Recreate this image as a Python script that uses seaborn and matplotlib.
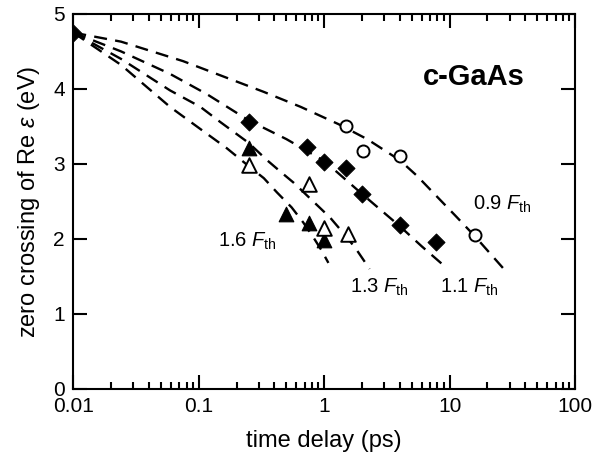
import matplotlib
matplotlib.use('Agg')
import matplotlib.pyplot as plt
import matplotlib.ticker as mticker
import seaborn as sns
import pandas as pd

# fit curves (time delay in ps, energy in eV)
curve_09_t = [0.01, 0.024, 0.075, 0.33, 0.65, 1.3, 2.2, 4.0, 5.5, 8.4, 11.4, 16, 27]
curve_09_e = [4.75, 4.63, 4.37, 3.96, 3.76, 3.53, 3.33, 3.05, 2.84, 2.52, 2.29, 2.03, 1.6]
curve_11_t = [0.01, 0.024, 0.059, 0.116, 0.25, 0.5, 1.0, 2.0, 4.0, 6.0, 9.5]
curve_11_e = [4.75, 4.50, 4.20, 3.93, 3.58, 3.33, 3.04, 2.60, 2.17, 1.90, 1.61]
curve_13_t = [0.01, 0.024, 0.059, 0.103, 0.148, 0.25, 0.35, 0.46, 0.57, 0.93, 1.12, 1.4, 1.77, 2.3]
curve_13_e = [4.75, 4.40, 3.98, 3.76, 3.56, 3.28, 3.05, 2.88, 2.75, 2.41, 2.28, 2.09, 1.88, 1.6]
curve_16_t = [0.01, 0.024, 0.059, 0.102, 0.167, 0.25, 0.33, 0.42, 0.55, 0.68, 0.82, 0.95, 1.08]
curve_16_e = [4.75, 4.32, 3.76, 3.47, 3.21, 2.97, 2.81, 2.62, 2.42, 2.22, 2.02, 1.85, 1.68]

# measured points
circ_t = [1.5, 2.05, 4.0, 16]
circ_e = [3.50, 3.17, 3.11, 2.05]
diam_t = [0.01, 0.25, 0.73, 1.0, 1.5, 2.0, 4.0, 7.8]
diam_e = [4.74, 3.56, 3.23, 3.03, 2.95, 2.60, 2.18, 1.96]
tri_f_t = [0.25, 0.5, 0.76, 1.0]
tri_f_e = [3.21, 2.33, 2.21, 1.98]
tri_o_t = [0.25, 0.76, 1.0, 1.55]
tri_o_e = [2.98, 2.73, 2.14, 2.06]

labels = ['0.9', '1.1', '1.3', '1.6']
label_t = [15.4, 8.4, 1.61, 0.143]
label_e = [2.39, 1.28, 1.28, 1.90]

sns.set_style('ticks')
plt.rcParams['font.family'] = ['Liberation Sans', 'DejaVu Sans']
plt.rcParams['mathtext.fontset'] = 'custom'
plt.rcParams['mathtext.rm'] = 'Liberation Sans'
plt.rcParams['mathtext.it'] = 'Liberation Sans:italic'
plt.rcParams['mathtext.bf'] = 'Liberation Sans:bold'
for k in ['text.color', 'axes.labelcolor', 'xtick.color', 'ytick.color', 'axes.edgecolor']:
    plt.rcParams[k] = 'black'

fig, ax = plt.subplots(figsize=(6.06, 4.63), dpi=100)
fig.subplots_adjust(left=0.121, right=0.949, top=0.970, bottom=0.160)

curves = [(curve_09_t, curve_09_e), (curve_11_t, curve_11_e),
          (curve_13_t, curve_13_e), (curve_16_t, curve_16_e)]
for t, e in curves:
    d = pd.DataFrame({'t': t, 'e': e})
    sns.lineplot(data=d, x='t', y='e', ax=ax, color='black', lw=1.7,
                 sort=False, estimator=None)
for line in ax.lines:
    line.set_dashes((5.5, 3.5))

sns.scatterplot(x=diam_t, y=diam_e, marker='D', s=75, color='black',
                edgecolor='black', ax=ax, zorder=5)
sns.scatterplot(x=tri_f_t, y=tri_f_e, marker='^', s=110, color='black',
                edgecolor='black', ax=ax, zorder=5)
sns.scatterplot(x=tri_o_t, y=tri_o_e, marker='^', s=110, color='white',
                edgecolor='black', linewidth=1.4, ax=ax, zorder=5)
sns.scatterplot(x=circ_t, y=circ_e, marker='o', s=75, color='white',
                edgecolor='black', linewidth=1.4, ax=ax, zorder=5)

for lab, t, e in zip(labels, label_t, label_e):
    ax.text(t, e, lab + r' $F_{\mathrm{th}}$', fontsize=14.5, va='baseline', ha='left')
ax.text(6.15, 4.05, 'c-GaAs', fontsize=21, fontweight='bold', va='baseline', ha='left')

ax.set_xscale('log')
ax.set_xlim(0.01, 100)
ax.set_ylim(0, 5)
ax.set_yticks([0, 1, 2, 3, 4, 5])
ax.xaxis.set_major_locator(mticker.FixedLocator([0.01, 0.1, 1, 10, 100]))
ax.xaxis.set_major_formatter(mticker.FuncFormatter(lambda v, p: f'{v:g}'))
ax.xaxis.set_minor_locator(mticker.LogLocator(base=10, subs=range(2, 10)))
ax.xaxis.set_minor_formatter(mticker.NullFormatter())
ax.tick_params(which='both', direction='in', top=True, right=True, width=1.5,
               labelsize=15, color='black', labelcolor='black')
ax.tick_params(which='major', length=10, pad=6)
ax.tick_params(which='minor', length=5)
for sp in ax.spines.values():
    sp.set_linewidth(1.5)
    sp.set_color('black')

ax.set_xlabel('time delay (ps)', fontsize=17, labelpad=10)
ax.set_ylabel(r'zero crossing of Re $\varepsilon$ (eV)', fontsize=17, labelpad=8)

fig.savefig('out.png', dpi=100)
